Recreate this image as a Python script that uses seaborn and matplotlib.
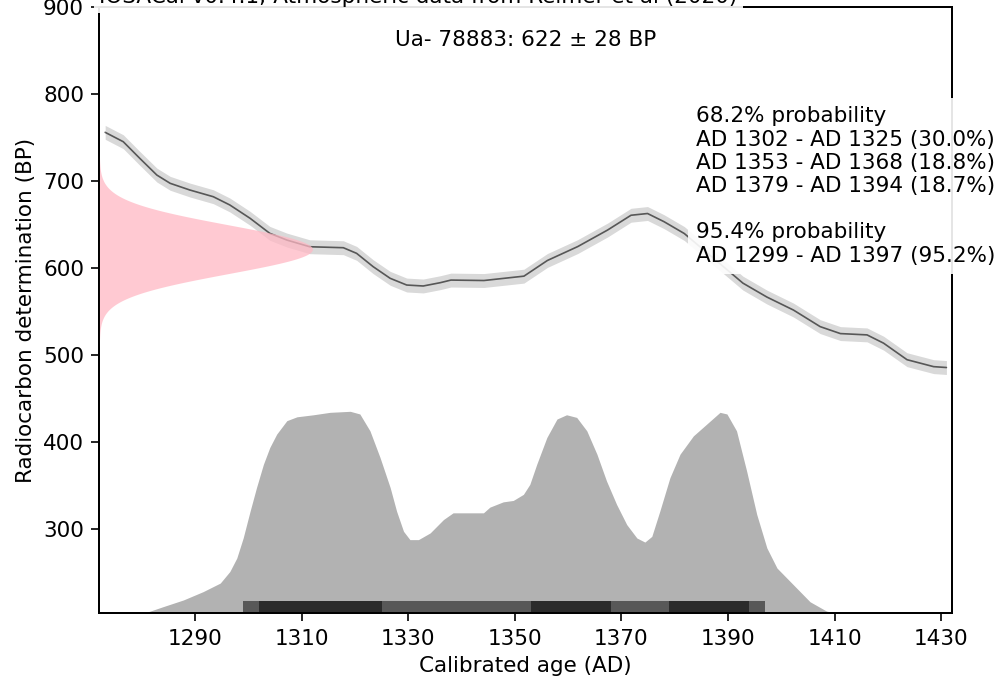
import matplotlib
matplotlib.use("Agg")
import matplotlib.pyplot as plt
import numpy as np
import pandas as pd
import seaborn as sns

# Calibration curve (IntCal20 segment): calendar year AD, 14C age BP, 1-sigma
cal_years = [1273.1, 1276.5, 1279.6, 1282.8, 1285.3, 1289.0, 1293.4, 1296.5, 1300.3,
             1304.0, 1307.2, 1311.5, 1317.8, 1320.3, 1323.4, 1326.6, 1329.7, 1332.8,
             1336.0, 1338.0, 1344.2, 1351.7, 1356.1, 1361.8, 1367.4, 1371.8, 1374.9,
             1378.0, 1381.8, 1392.8, 1397.3, 1402.3, 1407.3, 1411.1, 1416.1, 1419.2,
             1423.6, 1428.6, 1431.0]
cal_bp = [756.3, 745.5, 726.4, 707.2, 697.7, 690.0, 682.3, 672.8, 657.5,
          640.2, 632.5, 624.8, 623.7, 617.2, 601.9, 588.5, 580.8, 579.7,
          583.5, 586.5, 586.0, 591.0, 609.0, 625.0, 644.0, 661.0, 663.0,
          653.6, 640.0, 583.0, 567.0, 552.0, 533.0, 525.0, 523.5, 514.0,
          495.0, 487.0, 486.0]
cal_sigma = 8

# Sample determination
sample_id = "Ua- 78883"
sample_bp = 622
sample_sigma = 28

# Calibrated probability distribution (relative)
dist_years = [1280.3, 1284.0, 1287.8, 1291.5, 1294.7, 1296.5, 1297.8, 1299.0, 1300.3,
              1301.5, 1302.8, 1304.0, 1305.3, 1307.2, 1309.1, 1312.2, 1315.3, 1319.1,
              1320.9, 1322.8, 1324.7, 1326.6, 1327.8, 1329.1, 1330.3, 1331.9, 1334.1,
              1336.6, 1338.4, 1339.7, 1344.1, 1345.3, 1347.8, 1349.7, 1351.6, 1352.8,
              1354.1, 1356.0, 1357.9, 1359.7, 1361.6, 1363.5, 1365.4, 1367.2, 1369.1,
              1371.0, 1372.9, 1374.4, 1375.7, 1377.2, 1379.1, 1381.0, 1383.5, 1386.0,
              1388.5, 1389.8, 1391.6, 1393.5, 1395.4, 1397.3, 1399.2, 1402.3, 1405.4,
              1408.5, 1410.4]
dist_prob = [0.0, 0.033, 0.066, 0.107, 0.149, 0.206, 0.272, 0.371, 0.503,
             0.619, 0.734, 0.817, 0.883, 0.949, 0.968, 0.978, 0.990, 0.995,
             0.982, 0.899, 0.767, 0.619, 0.503, 0.404, 0.363, 0.363, 0.396,
             0.462, 0.495, 0.495, 0.495, 0.523, 0.549, 0.556, 0.586, 0.635,
             0.734, 0.866, 0.957, 0.978, 0.965, 0.899, 0.784, 0.652, 0.536,
             0.437, 0.371, 0.351, 0.379, 0.503, 0.668, 0.784, 0.874, 0.932,
             0.990, 0.982, 0.899, 0.701, 0.487, 0.322, 0.223, 0.140, 0.057,
             0.011, 0.0]

# Highest density ranges
ranges_68 = [(1302, 1325, 30.0), (1353, 1368, 18.8), (1379, 1394, 18.7)]
ranges_95 = [(1299, 1397, 95.2)]

x_ticks = [1290, 1310, 1330, 1350, 1370, 1390, 1410, 1430]
y_ticks = [300, 400, 500, 600, 700, 800, 900]

sns.set_style("ticks")
plt.rcParams.update({
    "font.family": ["DejaVu Sans"],
    "font.size": 15.5,
    "axes.linewidth": 1.2,
    "xtick.major.size": 6,
    "ytick.major.size": 6,
    "xtick.major.width": 1.2,
    "ytick.major.width": 1.2,
    "xtick.major.pad": 5,
    "ytick.major.pad": 5,
    "axes.labelpad": 5,
    "axes.edgecolor": "black",
    "xtick.color": "black",
    "ytick.color": "black",
    "text.color": "black",
    "axes.labelcolor": "black",
})

fig = plt.figure(figsize=(10.01, 6.82), dpi=100)
ax1 = fig.add_axes([0.0992, 0.1007, 0.8516, 0.8886])

# Calibration curve band and line
cal = pd.DataFrame({"year": cal_years, "bp": cal_bp})
ax1.fill_between(cal["year"], cal["bp"] - cal_sigma, cal["bp"] + cal_sigma,
                 color="k", alpha=0.15, lw=0)
sns.lineplot(data=cal, x="year", y="bp", ax=ax1, color="k", alpha=0.6, lw=1.2)

ax1.set_xlim(1272, 1432)
ax1.set_ylim(203.5, 900)
ax1.set_xticks(x_ticks)
ax1.set_yticks(y_ticks)
ax1.set_xlabel("Calibrated age (AD)")
ax1.set_ylabel("Radiocarbon determination (BP)")

# Range bars along the bottom
for lo, hi, _ in ranges_95:
    ax1.axvspan(lo, hi, ymin=0, ymax=0.02, facecolor="k", alpha=0.5, lw=0)
for lo, hi, _ in ranges_68:
    ax1.axvspan(lo, hi, ymin=0, ymax=0.02, facecolor="k", alpha=0.5, lw=0)

# Calibrated distribution on a twin y axis
ax2 = ax1.twinx()
ax2.fill_between(dist_years, 0, dist_prob, color="k", alpha=0.3, lw=0)
ax2.set_ylim(0, max(dist_prob) * 3)
ax2.set_yticks([])
ax2.set_xlim(1272, 1432)

# Radiocarbon determination as a normal curve on a twin x axis
ax3 = ax1.twiny()
bp_grid = np.linspace(sample_bp - 4 * sample_sigma, sample_bp + 4 * sample_sigma, 400)
density = np.exp(-0.5 * ((bp_grid - sample_bp) / sample_sigma) ** 2)
ax3.fill_betweenx(bp_grid, 0, density, color=(1.0, 0.72, 0.77), alpha=0.75, lw=0)
ax3.set_xlim(0, 4.0)
ax3.set_ylim(203.5, 900)
ax3.set_xticks([])

for a in (ax1, ax2, ax3):
    for s in a.spines.values():
        s.set_linewidth(1.2)

# Text annotations
ax1.text(0.5, 0.946, f"{sample_id}: {sample_bp} \u00b1 {sample_sigma} BP",
         ha="center", va="center", transform=ax1.transAxes, zorder=10,
         bbox=dict(facecolor="white", alpha=0.9, lw=0))

lines68 = "\n".join(f"AD {lo} - AD {hi} ({p:.1f}%)" for lo, hi, p in ranges_68)
lines95 = "\n".join(f"AD {lo} - AD {hi} ({p:.1f}%)" for lo, hi, p in ranges_95)
summary = f"68.2% probability\n{lines68}\n\n95.4% probability\n{lines95}"
ax3.text(0.70, 0.705, summary, ha="left", va="center", transform=ax1.transAxes,
         zorder=10, bbox=dict(facecolor="white", alpha=0.9, lw=0, pad=6))

ax3.text(0.0, 1.0, "IOSACal v0.4.1; Atmospheric data from Reimer et al (2020)",
         ha="left", va="bottom", transform=ax1.transAxes, zorder=10,
         bbox=dict(facecolor="white", alpha=0.9, lw=0))

fig.savefig("out.png", dpi=100)
